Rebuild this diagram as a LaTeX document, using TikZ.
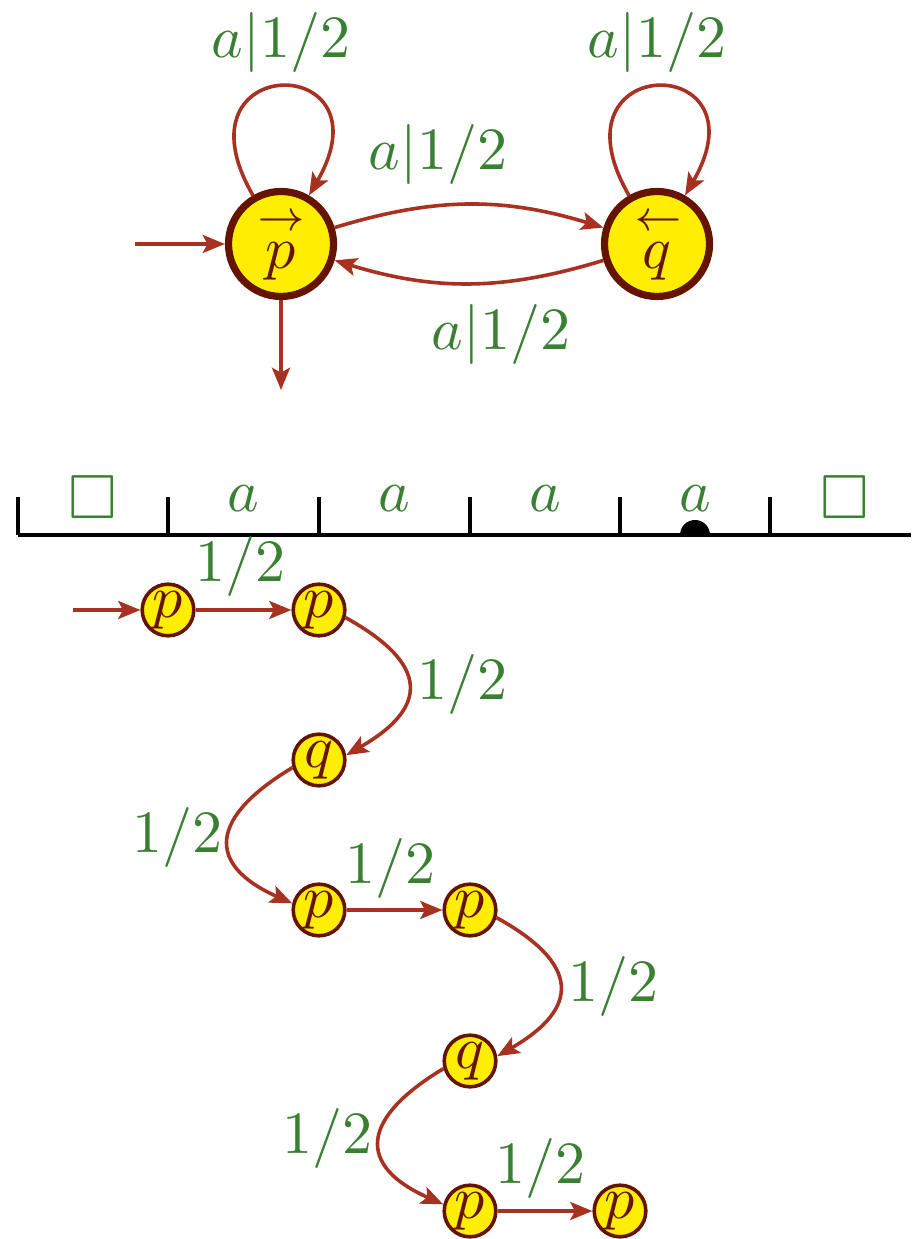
\documentclass[tikz,border=0pt]{standalone}
\usepackage{amssymb}
\usetikzlibrary{arrows.meta}
\definecolor{edgec}{RGB}{168,50,34}
\definecolor{labc}{RGB}{58,128,50}
\definecolor{nodef}{RGB}{255,238,0}
\definecolor{noded}{RGB}{100,20,0}
\begin{document}
\begin{tikzpicture}[x=0.16667pt,y=0.16667pt,
  bigstate/.style={circle,draw=noded,fill=nodef,line width=1.2pt,minimum size=17.5pt,inner sep=0pt,text=noded},
  smallstate/.style={circle,draw=noded,fill=nodef,line width=0.6pt,minimum size=8.6pt,inner sep=0pt,text=noded},
  edge/.style={draw=edgec,line width=0.6pt,-{Stealth[length=3.7pt,width=3pt,inset=0.8pt]}},
  lab/.style={text=labc,inner sep=0pt,anchor=base},
  toplab/.style={lab,font=\fontsize{10.4pt}{12pt}\selectfont},
  tapesym/.style={text=labc,inner sep=0pt,font=\fontsize{10.4pt}{12pt}\selectfont},
  tapeline/.style={draw=black,line width=0.55pt}
]
\useasboundingbox (0,0) rectangle (911,-1239);
% top automaton
\node[bigstate] (P) at (281,-244) {$\stackrel{\rightarrow}{p}$};
\node[bigstate] (Q) at (657,-244) {$\stackrel{\leftarrow}{q}$};
\coordinate (init) at (135,-244);
\coordinate (fin) at (281,-390);
\draw[edge] (init) -- (P);
\draw[edge] (P) -- (fin);
\draw[edge] (P.120) .. controls +(120:167) and +(60:167) .. (P.60);
\draw[edge] (Q.120) .. controls +(120:167) and +(60:167) .. (Q.60);
\draw[edge] (P) to[bend left=17] (Q);
\draw[edge] (Q) to[bend left=17] (P);
\node[toplab] (lp) at (281,-58) {$a|1/2$};
\node[toplab] (lq) at (657,-58) {$a|1/2$};
\node[toplab] (lpq) at (438,-170) {$a|1/2$};
\node[toplab] (lqp) at (501,-350) {$a|1/2$};
% tape
\draw[tapeline] (18,-535) -- (911,-535);
\foreach \x in {18,168,319,470,620,770} \draw[tapeline] (\x,-535) -- (\x,-497);
\node[tapesym] (t0) at (93,-497) {$\square$};
\node[tapesym,anchor=base] (t1) at (243,-512) {$a$};
\node[tapesym,anchor=base] (t2) at (394,-512) {$a$};
\node[tapesym,anchor=base] (t3) at (545,-512) {$a$};
\node[tapesym,anchor=base] (t4) at (695,-512) {$a$};
\node[tapesym] (t5) at (845,-497) {$\square$};
\fill[black] (695,-535) ++(2.5pt,0) arc[start angle=0,end angle=180,radius=2.5pt] -- cycle;
% run
\node[smallstate] (r1) at (168,-610) {$p$};
\node[smallstate] (r2) at (319,-610) {$p$};
\node[smallstate] (r3) at (319,-760) {$q$};
\node[smallstate] (r4) at (319,-910) {$p$};
\node[smallstate] (r5) at (470,-910) {$p$};
\node[smallstate] (r6) at (470,-1061) {$q$};
\node[smallstate] (r7) at (470,-1211) {$p$};
\node[smallstate] (r8) at (620,-1211) {$p$};
\coordinate (rinit) at (73,-610);
\draw[edge] (rinit) -- (r1);
\draw[edge] (r1) -- (r2);
\draw[edge] (r2.-16) .. controls +(-29:96) and +(30:96) .. (r3.10);
\draw[edge] (r3.196) .. controls +(211:96) and +(156:96) .. (r4.166);
\draw[edge] (r4) -- (r5);
\draw[edge] (r5.-16) .. controls +(-29:96) and +(30:96) .. (r6.10);
\draw[edge] (r6.196) .. controls +(211:96) and +(156:96) .. (r7.166);
\draw[edge] (r7) -- (r8);
\node[lab] (b1) at (240,-582) {$1/2$};
\node[lab] (b2) at (462,-700) {$1/2$};
\node[lab] (b3) at (177,-852) {$1/2$};
\node[lab] (b4) at (390,-883) {$1/2$};
\node[lab] (b5) at (613,-1001) {$1/2$};
\node[lab] (b6) at (327,-1153) {$1/2$};
\node[lab] (b7) at (540,-1183) {$1/2$};
\end{tikzpicture}
\end{document}
